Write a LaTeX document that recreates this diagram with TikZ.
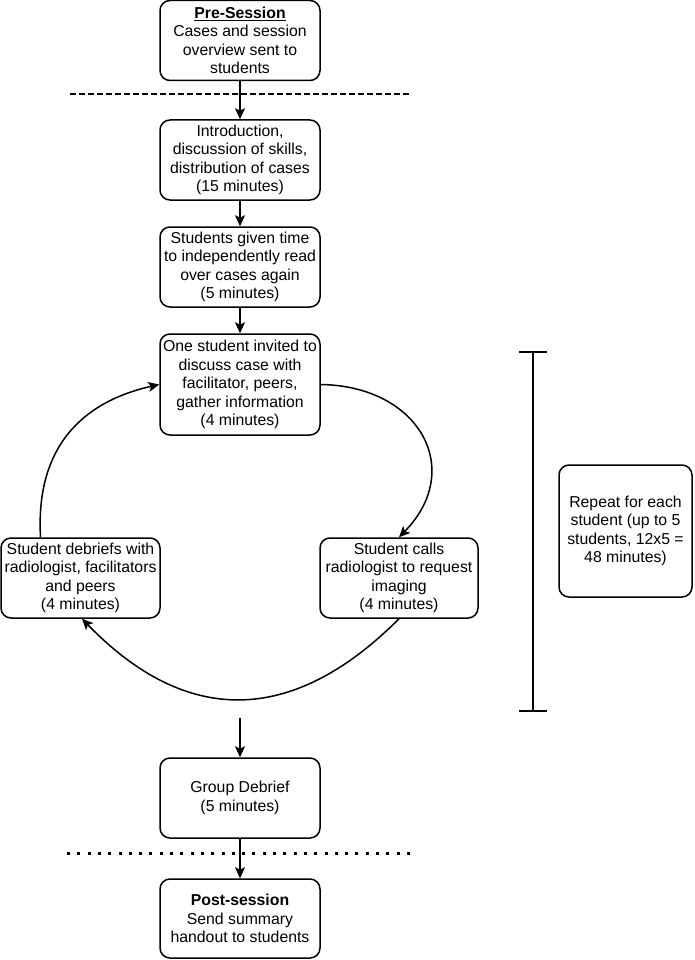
\documentclass[tikz,border=0pt]{standalone}
\usepackage{fontspec}
\setmainfont{Liberation Sans}
\usetikzlibrary{arrows.meta}
\begin{document}
\begin{tikzpicture}[x=1pt,y=1pt,
  box/.style={draw,rounded corners=10pt,line width=1.5pt,align=center,inner sep=0pt,
    minimum width=160pt,minimum height=80pt,font=\fontsize{15.8}{18.5}\selectfont},
  arr/.style={line width=1.5pt,-{Stealth[length=11pt,width=10pt,inset=2.5pt]}}]
\useasboundingbox (0,0) rectangle (694,-960);
\node[box] (pre) at (240,-40.5) {\textbf{\underline{Pre-Session}}\\Cases and session\\overview sent to\\students};
\node[box] (intro) at (240,-160) {Introduction,\\discussion of skills,\\distribution of cases\\(15 minutes)};
\node[box] (read) at (240,-267) {Students given time\\to independently read\\over cases again\\(5 minutes)};
\node[box,minimum height=101pt] (discuss) at (240,-384.5) {One student invited to\\discuss case with\\facilitator, peers,\\gather information\\(4 minutes)};
\node[box,minimum width=159pt] (debrief) at (80.5,-578) {Student debriefs with\\radiologist, facilitators\\and peers\\(4 minutes)};
\node[box,minimum width=158pt] (calls) at (399,-578) {Student calls\\radiologist to request\\imaging\\(4 minutes)};
\node[box] (group) at (240,-798) {Group Debrief\\(5 minutes)};
\node[box,minimum height=79pt] (post) at (240,-918.5) {\textbf{Post-session}\\Send summary\\handout to students};
\node[box,minimum width=133pt,minimum height=132pt] (repeat) at (625.5,-531) {Repeat for each\\student (up to 5\\students, 12x5 =\\48 minutes)};
\coordinate (gtop) at (240,-718);
\draw[line width=1.5pt,dash pattern=on 6pt off 3pt] (70,-94) -- (412,-94);
\draw[line width=3pt,dash pattern=on 3pt off 7.3pt] (67,-853) -- (412,-853);
\draw[line width=1.5pt] (533,-352) -- (533,-711);
\draw[line width=1.5pt] (519,-352) -- (547,-352);
\draw[line width=1.5pt] (519,-711) -- (547,-711);
\draw[arr] (pre) -- (intro);
\draw[arr] (intro) -- (read);
\draw[arr] (read) -- (discuss);
\draw[arr] (discuss.east) .. controls (420,-386) and (465,-470) .. (calls.north);
\draw[arr] (calls.south) .. controls (292,-726) and (186,-726) .. ([xshift=1.5pt]debrief.south);
\draw[arr] ([xshift=-40pt]debrief.north) .. controls (35,-440) and (90,-400) .. (discuss.west);
\draw[arr] (gtop) -- (group);
\draw[arr] (group) -- (post);
\end{tikzpicture}
\end{document}
